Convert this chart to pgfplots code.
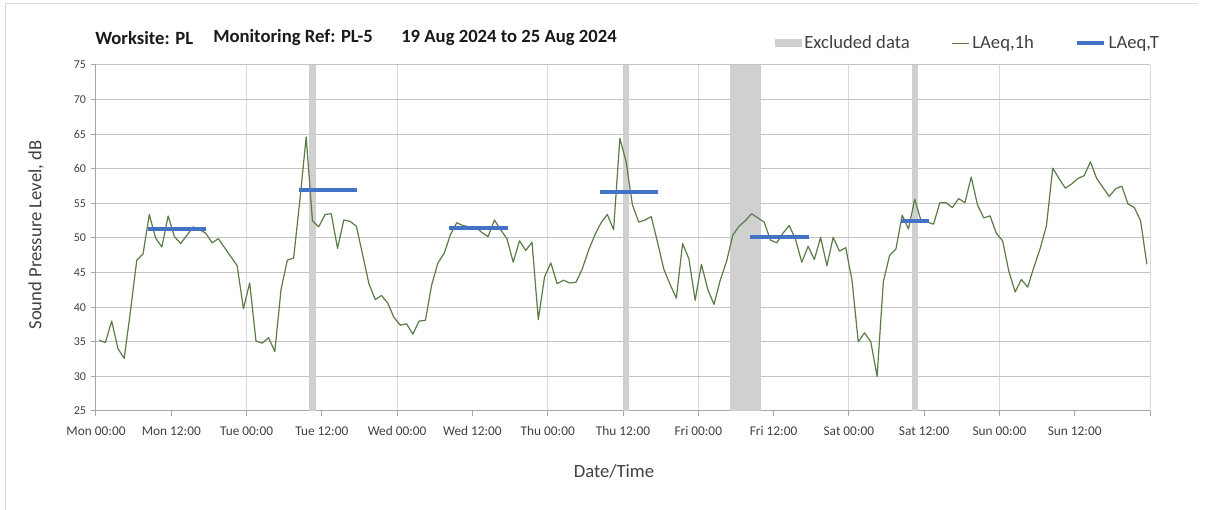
\documentclass[border=0pt]{standalone}
\usepackage{fontspec}
\setmainfont{Carlito}
\usepackage{pgfplots}
\usepackage{pgfplotstable}
\pgfplotsset{compat=1.18}

\definecolor{lgreen}{HTML}{5B7B47}
\definecolor{lblue}{HTML}{4472C4}
\definecolor{excl}{HTML}{D0D0D0}
\definecolor{hgrid}{HTML}{C4C4C4}
\definecolor{vgrid}{HTML}{DADADA}
\definecolor{axgray}{HTML}{A6A6A6}
\definecolor{txt}{HTML}{404040}

% hourly LAeq,1h, plotted at the middle of each hour (Mon 00:00 = 0)
\pgfplotstableread{
h dB
0.5 35.2
1.5 34.9
2.5 38.0
3.5 34.0
4.5 32.6
5.5 39.5
6.5 46.8
7.5 47.7
8.5 53.4
9.5 50.0
10.5 48.7
11.5 53.2
12.5 50.2
13.5 49.2
14.5 50.4
15.5 51.6
16.5 51.2
17.5 50.7
18.5 49.3
19.5 49.9
20.5 48.6
21.5 47.3
22.5 46.0
23.5 39.8
24.5 43.5
25.5 35.1
26.5 34.8
27.5 35.6
28.5 33.6
29.5 42.6
30.5 46.8
31.5 47.1
32.5 55.5
33.5 64.6
34.5 52.5
35.5 51.6
36.5 53.4
37.5 53.5
38.5 48.5
39.5 52.6
40.5 52.4
41.5 51.7
42.5 47.6
43.5 43.4
44.5 41.1
45.5 41.7
46.5 40.6
47.5 38.5
48.5 37.4
49.5 37.6
50.5 36.1
51.5 38.0
52.5 38.1
53.5 43.2
54.5 46.4
55.5 47.8
56.5 50.5
57.5 52.2
58.5 51.8
59.5 51.6
60.5 51.6
61.5 50.8
62.5 50.2
63.5 52.6
64.5 51.2
65.5 49.9
66.5 46.5
67.5 49.6
68.5 48.2
69.5 49.4
70.5 38.2
71.5 44.4
72.5 46.4
73.5 43.4
74.5 43.9
75.5 43.5
76.5 43.6
77.5 45.5
78.5 48.2
79.5 50.4
80.5 52.2
81.5 53.4
82.5 51.2
83.5 64.4
84.5 61.0
85.5 54.8
86.5 52.3
87.5 52.6
88.5 53.1
89.5 49.4
90.5 45.5
91.5 43.3
92.5 41.3
93.5 49.2
94.5 47.0
95.5 41.0
96.5 46.2
97.5 42.6
98.5 40.4
99.5 43.9
100.5 46.6
101.5 50.4
102.5 51.7
103.5 52.5
104.5 53.5
105.5 52.9
106.5 52.3
107.5 49.7
108.5 49.3
109.5 50.7
110.5 51.8
111.5 49.8
112.5 46.5
113.5 48.8
114.5 46.9
115.5 50.1
116.5 46.0
117.5 50.1
118.5 48.1
119.5 48.6
120.5 43.9
121.5 35.0
122.5 36.3
123.5 35.0
124.5 30.0
125.5 43.7
126.5 47.5
127.5 48.4
128.5 53.3
129.5 51.3
130.5 55.6
131.5 52.5
132.5 52.3
133.5 52.0
134.5 55.1
135.5 55.1
136.5 54.4
137.5 55.7
138.5 55.1
139.5 58.8
140.5 54.8
141.5 52.9
142.5 53.2
143.5 50.7
144.5 49.6
145.5 45.2
146.5 42.2
147.5 44.0
148.5 42.9
149.5 45.8
150.5 48.5
151.5 51.8
152.5 60.1
153.5 58.6
154.5 57.2
155.5 57.8
156.5 58.6
157.5 59.0
158.5 61.0
159.5 58.6
160.5 57.3
161.5 56.0
162.5 57.1
163.5 57.5
164.5 54.9
165.5 54.4
166.5 52.5
167.5 46.2
}\laeq

\begin{document}
\begin{tikzpicture}
\path[use as bounding box] (0,0) rectangle (906pt,382.5pt);
\draw[vgrid, line width=0.75pt] (3.75pt,0) -- (3.75pt,379.5pt) -- (898.5pt,379.5pt);

\begin{axis}[
  at={(72pt,74.25pt)}, anchor=south west,
  scale only axis, width=790.5pt, height=259.5pt,
  xmin=0, xmax=168, ymin=25, ymax=75,
  xtick={0,12,...,168},
  xticklabels={Mon 00:00,Mon 12:00,Tue 00:00,Tue 12:00,Wed 00:00,Wed 12:00,
    Thu 00:00,Thu 12:00,Fri 00:00,Fri 12:00,Sat 00:00,Sat 12:00,Sun 00:00,Sun 12:00,{}},
  minor xtick={24,48,...,168},
  xminorgrids,
  ytick={25,30,...,75}, ymajorgrids,
  major grid style={hgrid, line width=0.75pt},
  minor grid style={vgrid, line width=0.75pt},
  minor tick length=0pt,
  axis x line*=bottom, axis y line*=left,
  axis line style={axgray, line width=0.75pt},
  tick style={axgray, line width=0.75pt},
  tick align=outside, major tick length=4pt,
  xticklabel style={font=\fontsize{10}{12}\selectfont, text=txt, yshift=-4pt},
  yticklabel style={font=\fontsize{9}{11}\selectfont, text=txt},
  /pgf/number format/assume math mode=true,
  legend columns=3,
  legend cell align=left,
  legend style={at={(0.644,1.063)}, anchor=west, draw=none, fill=none,
    inner sep=0pt, font=\fontsize{14}{16}\selectfont, text=txt,
    /tikz/every even column/.append style={column sep=29pt}},
  no markers,
]
\addplot[fill=excl, draw=none,
  legend image code/.code={\fill[excl] (0pt,-3pt) rectangle (20pt,3pt);}]
  coordinates {(34,75) (35,75)} \closedcycle;
\addlegendentry{Excluded data}
\addplot[fill=excl, draw=none, forget plot] coordinates {(84,75) (85,75)} \closedcycle;
\addplot[fill=excl, draw=none, forget plot] coordinates {(101,75) (106,75)} \closedcycle;
\addplot[fill=excl, draw=none, forget plot] coordinates {(130,75) (131,75)} \closedcycle;

\addplot[lgreen, line width=0.9pt, line join=round,
  legend image code/.code={\draw[lgreen, line width=0.9pt] (0pt,0pt) -- (13pt,0pt);}]
  table[x=h, y=dB] {\laeq};
\addlegendentry{LAeq,1h}

\addplot[lblue, line width=3pt,
  legend image code/.code={\draw[lblue, line width=3pt] (0pt,0pt) -- (20pt,0pt);}]
  coordinates {(8.3,51.3) (17.5,51.3)};
\addlegendentry{LAeq,T}
\addplot[lblue, line width=3pt, forget plot] coordinates {(32.3,56.9) (41.6,56.9)};
\addplot[lblue, line width=3pt, forget plot] coordinates {(56.3,51.4) (65.7,51.4)};
\addplot[lblue, line width=3pt, forget plot] coordinates {(80.3,56.7) (89.6,56.7)};
\addplot[lblue, line width=3pt, forget plot] coordinates {(104.3,50.1) (113.6,50.1)};
\addplot[lblue, line width=3pt, forget plot] coordinates {(128.3,52.4) (132.7,52.4)};
\end{axis}

\begin{scope}[every node/.style={anchor=west, inner sep=0pt, text=black!90,
    font=\bfseries\fontsize{14}{16}\selectfont}]
\node at (71.25pt,354pt) {Worksite: PL};
\node at (159.75pt,354pt) {Monitoring Ref: PL-5};
\node at (300.75pt,354pt) {19 Aug 2024 to 25 Aug 2024};
\end{scope}
\node[text=txt, font=\fontsize{14}{16}\selectfont] at (460.5pt,29.25pt) {Date/Time};
\node[text=txt, font=\fontsize{14}{16}\selectfont, rotate=90] at (27pt,206.25pt) {Sound Pressure Level, dB};
\end{tikzpicture}
\end{document}
